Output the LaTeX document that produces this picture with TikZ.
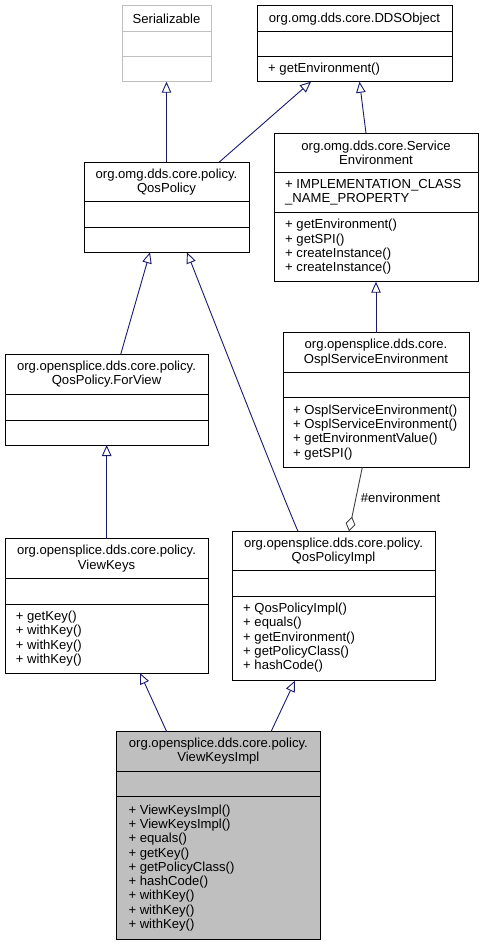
\documentclass[tikz,border=0pt]{standalone}
\usepackage{fontspec}
\setmainfont{Liberation Sans}
\usetikzlibrary{arrows.meta,calc}
\definecolor{edgeblue}{RGB}{25,25,112}
\definecolor{aggrey}{RGB}{64,64,64}
\definecolor{extgrey}{RGB}{191,191,191}
\definecolor{focusfill}{RGB}{191,191,191}
\tikzset{
  cls/.style={draw=black, line width=1pt, inner sep=0pt, outer sep=0pt, anchor=north west},
  extcls/.style={cls, draw=extgrey},
  sep/.style={line width=1pt},
  ttl/.style={inner sep=0pt, align=center, font=\fontsize{13.1}{14.3}\selectfont},
  mem/.style={inner sep=0pt, anchor=west, align=left, font=\fontsize{13.1}{14.3}\selectfont},
  inh/.style={draw=edgeblue, line width=0.9pt, -{Triangle[open, length=11pt, width=9.5pt]}},
  agg/.style={draw=aggrey, line width=0.9pt, -{Diamond[open, length=15pt, width=10pt]}},
  lbl/.style={inner sep=0pt, anchor=west, font=\fontsize{13.1}{14.3}\selectfont}
}
\begin{document}
\begin{tikzpicture}[x=1pt,y=-1pt]
\useasboundingbox (0,0) rectangle (483,945);

% Serializable
\node[extcls, minimum width=89pt, minimum height=76pt] (ser) at (122,5.7) {};
\draw[sep, extgrey] ($(ser.north west)+(0,26)$) -- ($(ser.north east)+(0,26)$);
\draw[sep, extgrey] ($(ser.north west)+(0,51)$) -- ($(ser.north east)+(0,51)$);
\node[ttl] (serT) at ($(ser.north)+(0,13)$) {Serializable};

% DDSObject
\node[cls, minimum width=195pt, minimum height=76pt] (dds) at (257,5.7) {};
\draw[sep] ($(dds.north west)+(0,26)$) -- ($(dds.north east)+(0,26)$);
\draw[sep] ($(dds.north west)+(0,51)$) -- ($(dds.north east)+(0,51)$);
\node[ttl] (ddsT) at ($(dds.north)+(0,13)$) {org.omg.dds.core.DDSObject};
\node[mem] (ddsM) at ($(dds.north west)+(11,63.5)$) {+ getEnvironment()};

% QosPolicy
\node[cls, minimum width=165pt, minimum height=90pt] (qos) at (84,162.3) {};
\draw[sep] ($(qos.north west)+(0,39)$) -- ($(qos.north east)+(0,39)$);
\draw[sep] ($(qos.north west)+(0,65.4)$) -- ($(qos.north east)+(0,65.4)$);
\node[ttl] (qosT) at ($(qos.north)+(0,19.5)$) {org.omg.dds.core.policy.\\QosPolicy};

% ServiceEnvironment
\node[cls, minimum width=204pt, minimum height=148.4pt] (svc) at (274,133.3) {};
\draw[sep] ($(svc.north west)+(0,39.4)$) -- ($(svc.north east)+(0,39.4)$);
\draw[sep] ($(svc.north west)+(0,79)$) -- ($(svc.north east)+(0,79)$);
\node[ttl] (svcT) at ($(svc.north)+(0,19.7)$) {org.omg.dds.core.Service\\Environment};
\node[mem] (svcA) at ($(svc.north west)+(11,58.7)$) {+ IMPLEMENTATION\_CLASS\\\_NAME\_PROPERTY};
\node[mem] (svcM) at ($(svc.north west)+(11,113.7)$) {+ getEnvironment()\\+ getSPI()\\+ createInstance()\\+ createInstance()};

% QosPolicy.ForView
\node[cls, minimum width=203pt, minimum height=90.7pt] (fv) at (5,354.3) {};
\draw[sep] ($(fv.north west)+(0,40)$) -- ($(fv.north east)+(0,40)$);
\draw[sep] ($(fv.north west)+(0,65.7)$) -- ($(fv.north east)+(0,65.7)$);
\node[ttl] (fvT) at ($(fv.north)+(0,20)$) {org.opensplice.dds.core.policy.\\QosPolicy.ForView};

% OsplServiceEnvironment
\node[cls, minimum width=186pt, minimum height=134.6pt] (ospl) at (283,332.7) {};
\draw[sep] ($(ospl.north west)+(0,40)$) -- ($(ospl.north east)+(0,40)$);
\draw[sep] ($(ospl.north west)+(0,64.6)$) -- ($(ospl.north east)+(0,64.6)$);
\node[ttl] (osplT) at ($(ospl.north)+(0,20)$) {org.opensplice.dds.core.\\OsplServiceEnvironment};
\node[mem] (osplM) at ($(ospl.north west)+(10,99.6)$) {+ OsplServiceEnvironment()\\+ OsplServiceEnvironment()\\+ getEnvironmentValue()\\+ getSPI()};

% ViewKeys
\node[cls, minimum width=203pt, minimum height=134.3pt] (vk) at (5,538.7) {};
\draw[sep] ($(vk.north west)+(0,40)$) -- ($(vk.north east)+(0,40)$);
\draw[sep] ($(vk.north west)+(0,65.3)$) -- ($(vk.north east)+(0,65.3)$);
\node[ttl] (vkT) at ($(vk.north)+(0,20)$) {org.opensplice.dds.core.policy.\\ViewKeys};
\node[mem] (vkM) at ($(vk.north west)+(10.7,99.8)$) {+ getKey()\\+ withKey()\\+ withKey()\\+ withKey()};

% QosPolicyImpl
\node[cls, minimum width=203pt, minimum height=149.4pt] (qpi) at (232,531.3) {};
\draw[sep] ($(qpi.north west)+(0,39.4)$) -- ($(qpi.north east)+(0,39.4)$);
\draw[sep] ($(qpi.north west)+(0,65.4)$) -- ($(qpi.north east)+(0,65.4)$);
\node[ttl] (qpiT) at ($(qpi.north)+(0,19.7)$) {org.opensplice.dds.core.policy.\\QosPolicyImpl};
\node[mem] (qpiM) at ($(qpi.north west)+(11,106.5)$) {+ QosPolicyImpl()\\+ equals()\\+ getEnvironment()\\+ getPolicyClass()\\+ hashCode()};

% ViewKeysImpl
\node[cls, fill=focusfill, minimum width=203.3pt, minimum height=207.6pt] (vki) at (116.7,731.7) {};
\draw[sep] ($(vki.north west)+(0,39.3)$) -- ($(vki.north east)+(0,39.3)$);
\draw[sep] ($(vki.north west)+(0,65)$) -- ($(vki.north east)+(0,65)$);
\node[ttl] (vkiT) at ($(vki.north)+(0,19.7)$) {org.opensplice.dds.core.policy.\\ViewKeysImpl};
\node[mem] (vkiM) at ($(vki.north west)+(11.6,136.3)$) {+ ViewKeysImpl()\\+ ViewKeysImpl()\\+ equals()\\+ getKey()\\+ getPolicyClass()\\+ hashCode()\\+ withKey()\\+ withKey()\\+ withKey()};

% Inheritance edges
\draw[inh] (ser.south |- qos.north) -- (ser.south);
\draw[inh] ($(qos.north west)+(135,0)$) -- ($(dds.south west)+(54,0)$);
\draw[inh] ($(svc.north west)+(92,0)$) -- ($(dds.south west)+(102.5,0)$);
\draw[inh] ($(fv.north west)+(115.7,0)$) -- ($(qos.south west)+(66,0)$);
\draw[inh] ($(qpi.north west)+(66,0)$) .. controls (282,495) and (198,280) .. ($(qos.south west)+(103,0)$);
\draw[inh] ($(ospl.north west)+(93,0)$) -- ($(svc.south west)+(102,0)$);
\draw[inh] ($(vk.north west)+(101.7,0)$) -- ($(fv.south west)+(101.7,0)$);
\draw[inh] ($(vki.north west)+(50,0)$) -- ($(vk.south west)+(135,0)$);
\draw[inh] ($(vki.north west)+(154.3,0)$) -- ($(qpi.south west)+(63,0)$);

% Aggregation
\draw[agg] ($(ospl.south west)+(79.3,0)$) -- ($(qpi.north west)+(117,0)$);
\node[lbl] (envL) at ($(ospl.south west)+(77.7,31)$) {\#environment};
\end{tikzpicture}
\end{document}
